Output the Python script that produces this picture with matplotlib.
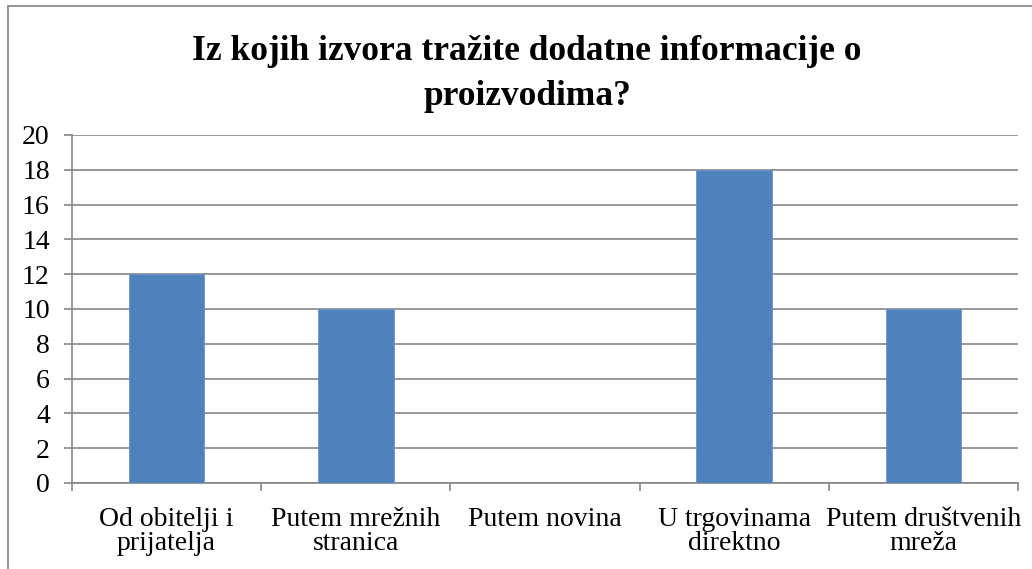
import matplotlib.pyplot as plt
from matplotlib.patches import Rectangle

categories = ['Od obitelji i\nprijatelja', 'Putem mrežnih\nstranica', 'Putem novina',
              'U trgovinama\ndirektno', 'Putem društvenih\nmreža']
values = [12, 10, 0, 18, 10]
yticks = [0, 2, 4, 6, 8, 10, 12, 14, 16, 18, 20]
title = 'Iz kojih izvora tražite dodatne informacije o\nproizvodima?'

plt.rcParams['font.family'] = ['Liberation Serif', 'DejaVu Serif']

fig = plt.figure(figsize=(10.32, 5.69), dpi=100)
fig.patches.append(Rectangle((8 / 1032, -0.1), 1.1, 1.1 - 6 / 569, transform=fig.transFigure,
                             fill=False, edgecolor='#8c8c8c', linewidth=1.3, figure=fig))
ax = fig.add_axes([72 / 1032, 1 - 483 / 569, (1018 - 72) / 1032, (483 - 135) / 569])

x = list(range(len(categories)))
ax.bar(x, values, width=0.4, color='#4F81BD', edgecolor='#6a95c9', linewidth=0.6, zorder=3)

ax.set_xlim(-0.5, len(categories) - 0.5)
ax.set_ylim(0, 20)
ax.set_yticks(yticks)
ax.set_yticklabels([str(t) for t in yticks], fontsize=20)
ax.yaxis.grid(True, color='#868686', linewidth=1.2)
ax.set_axisbelow(True)

ax.set_xticks([i - 0.5 for i in range(len(categories) + 1)])
ax.set_xticklabels([])
ax.set_xticks(x, minor=True)
ax.set_xticklabels(categories, minor=True, fontsize=20, linespacing=0.95)
ax.tick_params(axis='x', which='major', length=6, color='#868686', width=1.2, direction='out')
ax.tick_params(axis='x', which='minor', length=0, pad=17)
ax.tick_params(axis='y', length=6, color='#868686', width=1.2, pad=10)

for s in ['top', 'right']:
    ax.spines[s].set_visible(False)
for s in ['left', 'bottom']:
    ax.spines[s].set_color('#868686')
    ax.spines[s].set_linewidth(1.2)

fig.text(527 / 1032, 1 - 74 / 569, title, ha='center', va='center', fontsize=25.5,
         fontweight='bold', linespacing=1.45)

fig.savefig('out.png', dpi=100)
